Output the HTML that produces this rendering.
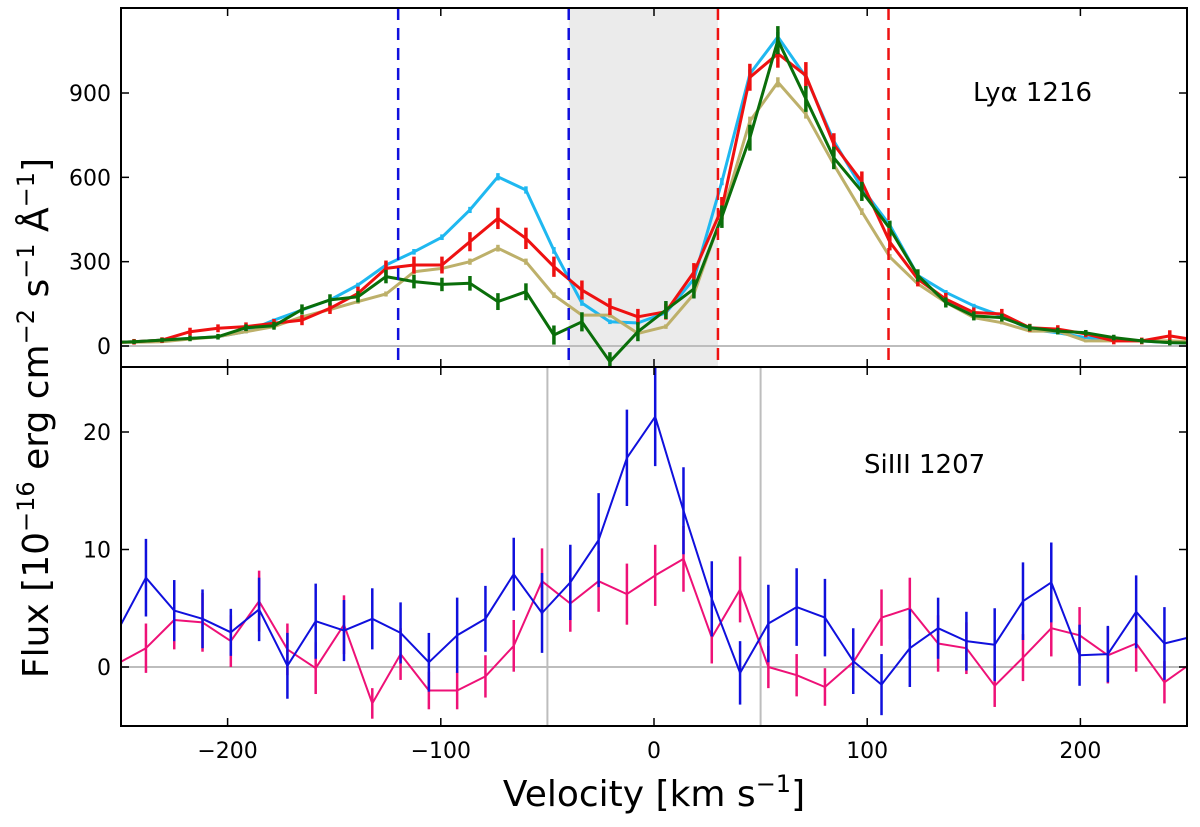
<!DOCTYPE html>
<html><head><meta charset="utf-8"><style>
html,body{margin:0;padding:0;background:#fff;}
svg{display:block;font-family:"DejaVu Sans","Liberation Sans",sans-serif;}
</style></head><body>
<svg id="chart" width="1200" height="827" viewBox="0 0 1200 827" xmlns="http://www.w3.org/2000/svg">
<defs>
<clipPath id="clipTop"><rect x="121" y="8" width="1066" height="359"/></clipPath>
<clipPath id="clipBot"><rect x="121" y="367" width="1066" height="359"/></clipPath>
</defs>
<g id="topPanel"></g>
<g id="botPanel"></g>
<g id="axesGroup"></g>
<text x="973" y="101" font-size="26">Lyα 1216</text>
<text x="864" y="473" font-size="26">SiIII 1207</text>
<text x="654" y="806" font-size="36" text-anchor="middle">Velocity [km s<tspan dy="-14" font-size="24">−1</tspan><tspan dy="14">]</tspan></text>
<text transform="translate(48,418) rotate(-90)" font-size="36" text-anchor="middle">Flux [10<tspan dy="-14" font-size="24">−16</tspan><tspan dy="14"> erg cm</tspan><tspan dy="-14" font-size="24">−2</tspan><tspan dy="14"> s</tspan><tspan dy="-14" font-size="24">−1</tspan><tspan dy="14"> Å</tspan><tspan dy="-14" font-size="24">−1</tspan><tspan dy="14">]</tspan></text>
</svg>
<script>
const topK = [-14,-13,-12,-11,-10,-9,-8,-7,-6,-5,-4,-3,-2,-1,0,1,2,3,4,5,6,7,8,9,10,11,12,13,14,15,16,17,18,19,20,21,22,23,24,25];
const cyanVals = [12,15,21,27,33,51,92,128,164,217,288,335,387,484,602,555,340,153,86,82,118,238,585,968,1100,957,729,562,430,251,191,143,107,59,47,30,24,18,12,10];
const redVals  = [12,15,21,51,63,69,81,92,134,187,276,288,288,371,454,383,282,199,140,104,122,263,490,956,1040,962,717,585,370,238,167,119,114,65,60,43,18,18,36,20];
const greenVals= [12,15,21,27,33,65,72,130,164,175,247,229,219,223,158,193,39,86,-56,51,128,203,460,741,1088,879,669,550,418,251,155,107,101,65,53,47,30,18,12,10];
const tanVals  = [12,13,15,25,33,51,69,104,130,158,185,264,276,300,348,300,181,110,110,45,69,185,466,800,938,825,645,478,317,221,155,101,83,53,53,18,18,18,18,15];
const cyanErr  = [5,5,5,5,5,6,6,7,7,8,9,10,10,11,13,13,12,10,8,8,8,10,13,16,17,16,14,13,11,9,8,7,6,5,5,5,5,5,5,5];
const redErr   = [10,10,10,14,14,15,15,18,20,24,28,30,30,34,38,38,36,34,30,28,28,32,40,48,50,48,40,36,30,26,22,18,18,14,14,12,12,12,20,12];
const greenErr = [8,8,8,10,10,12,14,18,20,20,24,24,24,26,30,30,34,34,34,34,32,34,40,46,50,46,40,34,28,22,18,16,14,12,12,10,10,10,10,10];
const tanErr   = [4,4,4,5,5,6,6,7,8,8,9,10,10,11,12,11,10,9,9,8,8,10,14,16,18,16,14,12,10,8,7,6,6,5,5,5,5,5,5,5];
const botK = [-1,0,1,2,3,4,5,6,7,8,9,10,11,12,13,14,15,16,17,18,19,20,21,22,23,24,25,26,27,28,29,30,31,32,33,34,35,36,37];
const blueVals = [3.1,7.6,4.8,4.1,2.95,4.9,0.1,3.9,3.1,4.1,2.9,0.4,2.7,4.1,7.9,4.6,7.2,10.8,17.8,21.3,13.3,5.8,-0.5,3.7,5.1,4.2,0.5,-1.5,1.6,3.3,2.2,1.9,5.6,7.2,1.0,1.1,4.7,2.0,2.6];
const blueErr  = [3,3.3,2.6,2.5,2.0,2.7,2.8,3.2,2.6,2.6,2.6,2.5,3.2,2.8,3.1,3.4,3.2,4.0,4.1,4.2,3.7,3.2,2.7,3.3,3.3,3.3,2.8,2.6,3.3,2.6,2.5,3.1,3.3,3.4,2.6,2.4,3.1,3.1,3.0];
const pinkVals = [0.3,1.6,4.0,3.8,2.2,5.6,1.5,-0.1,3.6,-3.1,1.1,-2.0,-2.0,-0.8,1.8,7.3,5.4,7.3,6.2,7.8,9.2,2.5,6.6,0.0,-0.7,-1.7,0.4,4.2,5.0,2.0,1.6,-1.6,0.8,3.3,2.7,1.0,2.0,-1.3,0.4];
const pinkErr  = [2,2.1,2.5,2.5,2.2,2.6,2.2,2.2,2.5,1.3,2.2,1.6,1.6,1.8,2.2,2.8,2.4,2.6,2.6,2.6,2.8,2.2,2.8,1.8,1.8,1.6,2.0,2.4,2.6,2.4,2.2,1.8,2.0,2.4,2.4,2.4,2.4,1.8,2.0];
const xTicks = [-200,-100,0,100,200];
const topTicks = [0,300,600,900];
const botTicks = [0,10,20];
const blueDash = [-120,-40];
const redDash = [30,110];
const shadeRange = [-40,30];
const grayLines = [-50,50];

const NS='http://www.w3.org/2000/svg';
const X0=121,X1=1187,TY0=8,TY1=367,BY1=726;
const xs=v=>X0+(v+250)/500*(X1-X0);
const yt=f=>346-f*0.2811;
const yb=f=>667-f*11.75;
const vTop=k=>-73.2+13.13*k;
const vBot=k=>-238.3+13.27*k;
function mk(tag,attrs,parent){const e=document.createElementNS(NS,tag);for(const a in attrs)e.setAttribute(a,attrs[a]);parent.appendChild(e);return e;}
const gTop=document.getElementById('topPanel'),gBot=document.getElementById('botPanel'),gAxes=document.getElementById('axesGroup');

let sh=mk('rect',{x:xs(shadeRange[0]),y:TY0,width:xs(shadeRange[1])-xs(shadeRange[0]),height:TY1-TY0,fill:'#ebebeb'},gTop);


let z1=mk('line',{x1:X0,x2:X1,y1:yt(0),y2:yt(0),stroke:'#bdbdbd','stroke-width':2},gTop);


let z2=mk('line',{x1:X0,x2:X1,y1:yb(0),y2:yb(0),stroke:'#bdbdbd','stroke-width':2},gBot);


grayLines.forEach(v=>{let l=mk('line',{x1:xs(v),x2:xs(v),y1:TY1,y2:BY1,stroke:'#bdbdbd','stroke-width':2},gBot);

});

function series(parent,ks,vf,vals,errs,yf,color,w,name,clip){
  const g=mk('g',{'clip-path':'url(#'+clip+')'},parent);
  
  
  ks.forEach((k,i)=>{const x=xs(vf(k));mk('line',{x1:x,x2:x,y1:yf(vals[i]-errs[i]),y2:yf(vals[i]+errs[i]),stroke:color,'stroke-width':w+0.5},g);});
  const pts=ks.map((k,i)=>xs(vf(k)).toFixed(1)+','+yf(vals[i]).toFixed(1)).join(' ');
  const p=mk('polyline',{points:pts,fill:'none',stroke:color,'stroke-width':w,'stroke-linejoin':'round'},g);
  
  
}
series(gTop,topK,vTop,cyanVals,cyanErr,yt,'#1fb8f0',3,'cyan-series','clipTop');
series(gTop,topK,vTop,tanVals,tanErr,yt,'#bdb06a',3,'tan-series','clipTop');
series(gTop,topK,vTop,redVals,redErr,yt,'#ee1111',3,'red-series','clipTop');
series(gTop,topK,vTop,greenVals,greenErr,yt,'#0a6e0a',3,'green-series','clipTop');
series(gBot,botK,vBot,pinkVals,pinkErr,yb,'#ee1177',2,'pink-series','clipBot');
series(gBot,botK,vBot,blueVals,blueErr,yb,'#1010dd',2,'blue-series','clipBot');

blueDash.forEach(v=>{let l=mk('line',{x1:xs(v),x2:xs(v),y1:TY0,y2:TY1,stroke:'#1010dd','stroke-width':2.5,'stroke-dasharray':'12,8'},gTop);

});
redDash.forEach(v=>{let l=mk('line',{x1:xs(v),x2:xs(v),y1:TY0,y2:TY1,stroke:'#ee1111','stroke-width':2.5,'stroke-dasharray':'12,8'},gTop);

});

[[TY0,TY1],[TY1,BY1]].forEach(r=>{let f=mk('rect',{x:X0,y:r[0],width:X1-X0,height:r[1]-r[0],fill:'none',stroke:'#000','stroke-width':2},gAxes);

});
xTicks.forEach(v=>{const x=xs(v);
  [[TY0,TY0+8],[TY1-8,TY1],[TY1,TY1+8],[BY1-8,BY1]].forEach(s=>mk('line',{x1:x,x2:x,y1:s[0],y2:s[1],stroke:'#000','stroke-width':1.5},gAxes));
  let t=mk('text',{x:x,y:BY1+32,'font-size':22,'text-anchor':'middle'},gAxes);t.textContent=(v<0?'−':'')+Math.abs(v);
  
  });
topTicks.forEach(f=>{const y=yt(f);
  mk('line',{x1:X0,x2:X0+8,y1:y,y2:y,stroke:'#000','stroke-width':1.5},gAxes);mk('line',{x1:X1-8,x2:X1,y1:y,y2:y,stroke:'#000','stroke-width':1.5},gAxes);
  let t=mk('text',{x:X0-10,y:y+8,'font-size':22,'text-anchor':'end'},gAxes);t.textContent=f;
  
  });
botTicks.forEach(f=>{const y=yb(f);
  mk('line',{x1:X0,x2:X0+8,y1:y,y2:y,stroke:'#000','stroke-width':1.5},gAxes);mk('line',{x1:X1-8,x2:X1,y1:y,y2:y,stroke:'#000','stroke-width':1.5},gAxes);
  let t=mk('text',{x:X0-10,y:y+8,'font-size':22,'text-anchor':'end'},gAxes);t.textContent=f;
  
  });
</script>
</body></html>
